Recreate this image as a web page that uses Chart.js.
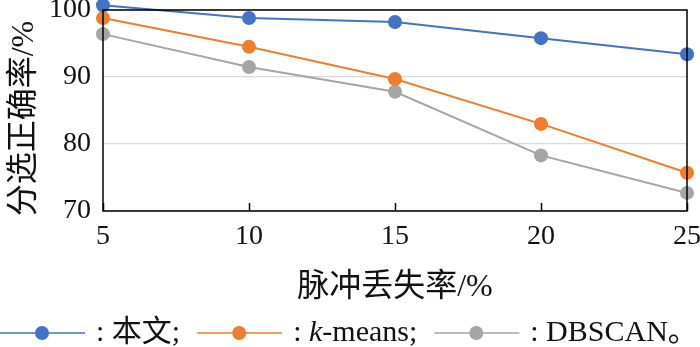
<!DOCTYPE html>
<html>
<head>
<meta charset="utf-8">
<script src="https://cdn.jsdelivr.net/npm/chart.js@4.4.1/dist/chart.umd.min.js"></script>
<style>
  html, body { margin: 0; padding: 0; background: #fff; }
  #wrap { width: 700px; height: 347px; }
</style>
</head>
<body>
<div id="wrap"><canvas id="accChart" width="700" height="347"></canvas></div>
<script>
// data
const lossRates = [5, 10, 15, 20, 25]
const oursAcc = [100.7, 98.8, 98.2, 95.8, 93.4]
const kmeansAcc = [98.8, 94.5, 89.7, 83.0, 75.7]
const dbscanAcc = [96.4, 91.5, 87.8, 78.3, 72.7]
const seriesNames = ['本文', 'k-means', 'DBSCAN']
const seriesColors = ['#4472C4', '#ED7D31', '#A5A5A5']
const yTicks = [70, 80, 90, 100]

const FONT = "'Liberation Serif', 'Noto Sans CJK SC', serif"

function toPoints(vals) {
  return lossRates.map((x, i) => ({ x: x, y: vals[i] }))
}

// box, inward x ticks and the bottom legend
const framePlugin = {
  id: 'frame',
  afterDatasetsDraw(chart) {
    const { ctx, chartArea: a } = chart
    const xs = chart.scales.x
    ctx.save()
    ctx.strokeStyle = '#000'
    ctx.lineWidth = 1.5
    ctx.strokeRect(a.left, a.top, a.right - a.left, a.bottom - a.top)
    ctx.beginPath()
    lossRates.forEach(v => {
      const px = Math.round(xs.getPixelForValue(v)) + 0.5
      ctx.moveTo(px, a.bottom)
      ctx.lineTo(px, a.bottom - 8)
    })
    ctx.stroke()
    ctx.restore()
  },
  afterDraw(chart) {
    const { ctx } = chart
    const y = 333
    let x = 0
    ctx.save()
    ctx.textBaseline = 'middle'
    chart.data.datasets.forEach((ds, i) => {
      ctx.strokeStyle = ds.borderColor
      ctx.lineWidth = 1.5
      ctx.beginPath()
      ctx.moveTo(x, y)
      ctx.lineTo(x + 85, y)
      ctx.stroke()
      ctx.fillStyle = ds.borderColor
      ctx.beginPath()
      ctx.arc(x + 42, y, 7, 0, Math.PI * 2)
      ctx.fill()
      x += 96
      ctx.fillStyle = '#111'
      const name = seriesNames[i]
      const tail = i === seriesNames.length - 1 ? '。' : ';'
      const parts = name.startsWith('k-')
        ? [[': ', false], ['k', true], [name.slice(1) + tail, false]]
        : [[': ' + name + tail, false]]
      parts.forEach(([t, it]) => {
        ctx.font = (it ? 'italic ' : '') + '30px ' + FONT
        ctx.fillText(t, x, y)
        x += ctx.measureText(t).width
      })
      x += 17
    })
    ctx.restore()
  }
}

new Chart(document.getElementById('accChart').getContext('2d'), {
  type: 'line',
  data: {
    datasets: [oursAcc, kmeansAcc, dbscanAcc].map((vals, i) => ({
      label: seriesNames[i],
      data: toPoints(vals),
      borderColor: seriesColors[i],
      backgroundColor: seriesColors[i],
      borderWidth: 2,
      pointRadius: 7,
      pointHoverRadius: 7,
      pointBorderWidth: 0,
      tension: 0,
      clip: false
    }))
  },
  options: {
    responsive: false,
    animation: false,
    events: [],
    layout: { padding: { left: 0, right: 13, top: 10, bottom: 48 } },
    plugins: {
      legend: { display: false },
      tooltip: { enabled: false }
    },
    scales: {
      x: {
        type: 'linear',
        min: 5,
        max: 25,
        afterBuildTicks(scale) { scale.ticks = lossRates.map(v => ({ value: v })) },
        afterFit(scale) { scale.paddingLeft = 0; scale.paddingRight = 0 },
        grid: { display: false, drawTicks: false },
        border: { display: false },
        ticks: { color: '#111', padding: 12, font: { family: FONT, size: 28, lineHeight: 1 } },
        title: {
          display: true,
          text: '脉冲丢失率/%',
          color: '#111',
          font: { family: FONT, size: 32, lineHeight: 1 },
          padding: { top: 9, bottom: -5 }
        }
      },
      y: {
        min: 70,
        max: 100,
        afterBuildTicks(scale) { scale.ticks = yTicks.map(v => ({ value: v })) },
        afterFit(scale) { scale.paddingTop = 0; scale.paddingBottom = 0; scale.width = 103 },
        grid: { color: '#d9d9d9', lineWidth: 1.2, drawTicks: false },
        border: { display: false },
        ticks: { color: '#111', padding: 12, font: { family: FONT, size: 28, lineHeight: 1 } },
        title: {
          display: true,
          text: '分选正确率/%  ',
          color: '#111',
          font: { family: FONT, size: 32, lineHeight: 1 },
          padding: { top: 9, bottom: 8 }
        }
      }
    }
  },
  plugins: [framePlugin]
})
</script>
</body>
</html>
